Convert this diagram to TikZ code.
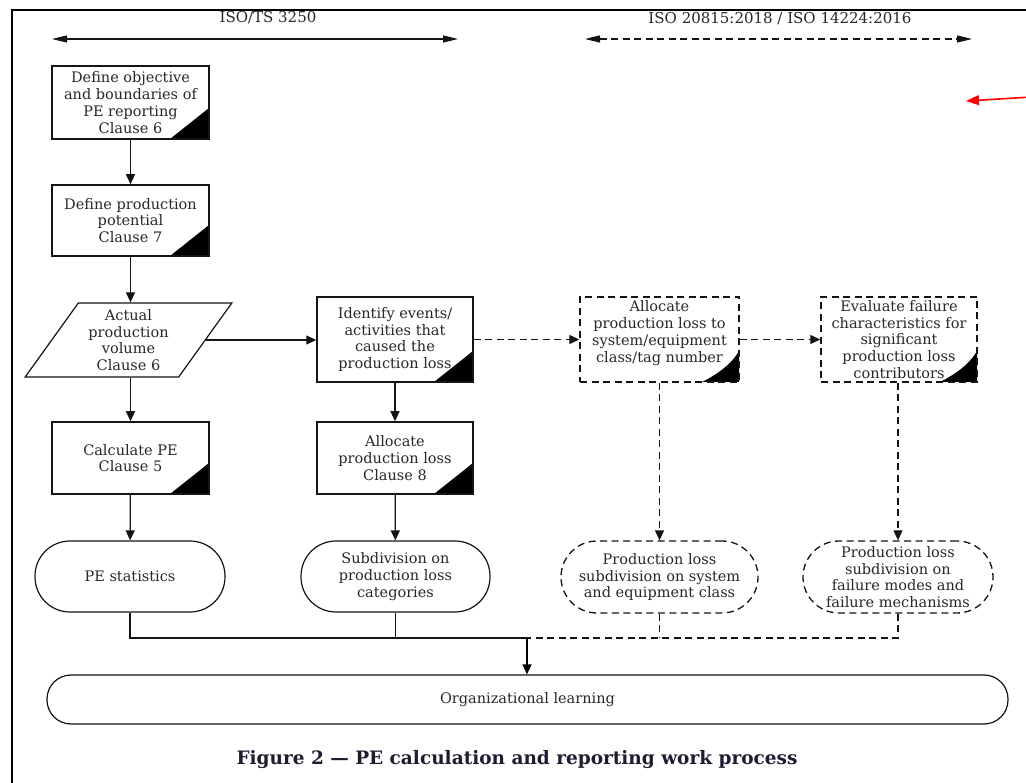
\documentclass[tikz,border=0pt]{standalone}
\usepackage{fontspec}
\setmainfont{DejaVu Serif}
\usetikzlibrary{arrows.meta,shapes.geometric}
\definecolor{txt}{RGB}{40,40,40}
\definecolor{capc}{RGB}{28,30,48}
\definecolor{lnc}{RGB}{20,20,20}
\begin{document}
\begin{tikzpicture}[x=1pt,y=-1pt,
  every node/.style={font=\fontsize{14.5}{16.8}\selectfont, text=txt, align=center, inner sep=0pt},
  tip/.style={-{Triangle[length=10pt,width=9pt]}},
  ln/.style={draw=lnc, line width=1.2pt},
  dln/.style={draw=lnc, line width=1.2pt, dash pattern=on 7pt off 4.5pt},
  corner/.style={path picture={\fill[black] ([xshift=-39pt]path picture bounding box.south east) -- (path picture bounding box.south east) -- ([yshift=31pt]path picture bounding box.south east) -- cycle;}},
  dcorner/.style={path picture={\fill[black] ([xshift=-37pt]path picture bounding box.south east) .. controls +(14pt,7pt) and +(-8pt,-14pt) .. ([yshift=31pt]path picture bounding box.south east) -- (path picture bounding box.south east) -- cycle;}},
  procbox/.style={draw=lnc, line width=1.5pt, rectangle, corner},
  dprocbox/.style={draw=lnc, line width=1.4pt, dash pattern=on 7pt off 4.5pt, rectangle, dcorner},
  term/.style={draw=lnc, line width=1.2pt, rectangle, rounded corners=35pt, minimum width=190pt, minimum height=71pt},
  dterm/.style={draw=lnc, line width=1.3pt, dash pattern=on 7pt off 4.5pt, rectangle, rounded corners=36pt, minimum height=72pt},
  hdr/.style={font=\fontsize{15}{17}\selectfont}
]
\useasboundingbox (0,0) rectangle (1026,783);
\fill[white] (0,0) rectangle (1026,783);

% frame
\coordinate (fa) at (1030,10);
\coordinate (fb) at (12,10);
\coordinate (fc) at (12,790);
\draw[line width=1.8pt, black] (fa) -- (fb) -- (fc);

% headers
\node[hdr] (h1) at (268,18) {ISO/TS 3250};
\node[hdr] (h2) at (780,19) {ISO 20815:2018 / ISO 14224:2016};
\coordinate (h1l) at (52,39);
\coordinate (h1r) at (458,39);
\coordinate (h2l) at (585,39);
\coordinate (h2r) at (972,39);
\draw[ln, {Triangle[length=15pt,width=7pt]}-{Triangle[length=15pt,width=7pt]}] (h1l) -- (h1r);
\draw[dln, {Triangle[length=15pt,width=7pt]}-{Triangle[length=15pt,width=7pt]}] (h2l) -- (h2r);

% red annotation arrow
\coordinate (r1) at (1032,97);
\coordinate (r2) at (966,101);
\draw[red, line width=1.6pt, -{Triangle[length=13pt,width=10pt]}] (r1) -- (r2);

% left column
\node[procbox, minimum width=157pt, minimum height=73pt] (b1) at (130.5,102.5)
  {Define objective\\and boundaries of\\PE reporting\\Clause 6};
\node[procbox, minimum width=157pt, minimum height=71pt] (b2) at (130.5,220.5)
  {Define production\\potential\\Clause 7};
\node[draw=lnc, line width=1.2pt, shape=trapezium, trapezium left angle=55.4, trapezium right angle=124.6,
  trapezium stretches=true, minimum width=207pt, minimum height=74pt] (par) at (128.5,340)
  {Actual\\production\\volume\\Clause 6};
\node[procbox, minimum width=157pt, minimum height=72pt] (calc) at (130.5,458)
  {Calculate PE\\Clause 5};
\node[term] (pes) at (130,576.5) {PE statistics};

% middle column
\node[procbox, minimum width=156pt, minimum height=85pt] (idf) at (395,339.5)
  {Identify events/\\activities that\\caused the\\production loss};
\node[procbox, minimum width=156pt, minimum height=72pt] (alloc) at (395,458)
  {Allocate\\production loss\\Clause 8};
\node[term, minimum width=189pt] (sub) at (395.5,576.5)
  {Subdivision on\\production loss\\categories};

% dashed columns
\node[dprocbox, minimum width=159pt, minimum height=85pt, text depth=16pt] (db1) at (659.5,339.5)
  {Allocate\\production loss to\\system/equipment\\class/tag number};
\node[dprocbox, minimum width=156pt, minimum height=85pt] (db2) at (899,339.5)
  {Evaluate failure\\characteristics for\\significant\\production loss\\contributors};
\node[dterm, minimum width=197pt] (de1) at (659.5,577)
  {Production loss\\subdivision on system\\and equipment class};
\node[dterm, minimum width=190pt] (de2) at (898,577)
  {Production loss\\subdivision on\\failure modes and\\failure mechanisms};

% bottom
\node[draw=lnc, line width=1.2pt, rectangle, rounded corners=24pt, minimum width=961pt, minimum height=49pt] (org)
  at (527.5,699.5) {Organizational learning};
\node[font=\fontsize{18.5}{22}\selectfont\bfseries, text=capc] (cap) at (517,760)
  {Figure 2 — PE calculation and reporting work process};

% connectors
\draw[ln, tip] (b1) -- (b2);
\draw[ln, tip] (b2.south) -- (b2.south |- par.north);
\draw[ln, tip] (b2.south |- par.south) -- (calc);
\draw[ln, tip] (calc) -- (pes);
\draw[ln, tip] (par.east) -- (idf.west |- par.east);
\draw[ln, tip] (idf) -- (alloc);
\draw[ln, tip] (alloc) -- (sub);
\draw[dln, tip] (idf.east) -- (db1.west);
\draw[dln, tip] (db1.east) -- (db2.west);
\draw[dln, tip] (db1.south) -- (db1.south |- de1.north);
\draw[dln, tip] (de2.north |- db2.south) -- (de2.north);

\coordinate (j) at (527,638);
\draw[ln] (pes.south) |- (j);
\draw[ln] (sub.south) -- (sub.south |- j);
\draw[dln] (de2.south) |- (j);
\draw[dln] (de1.south) -- (de1.south |- j);
\draw[line width=1.6pt, draw=black, tip] (j) -- (j |- org.north);
\end{tikzpicture}
\end{document}
